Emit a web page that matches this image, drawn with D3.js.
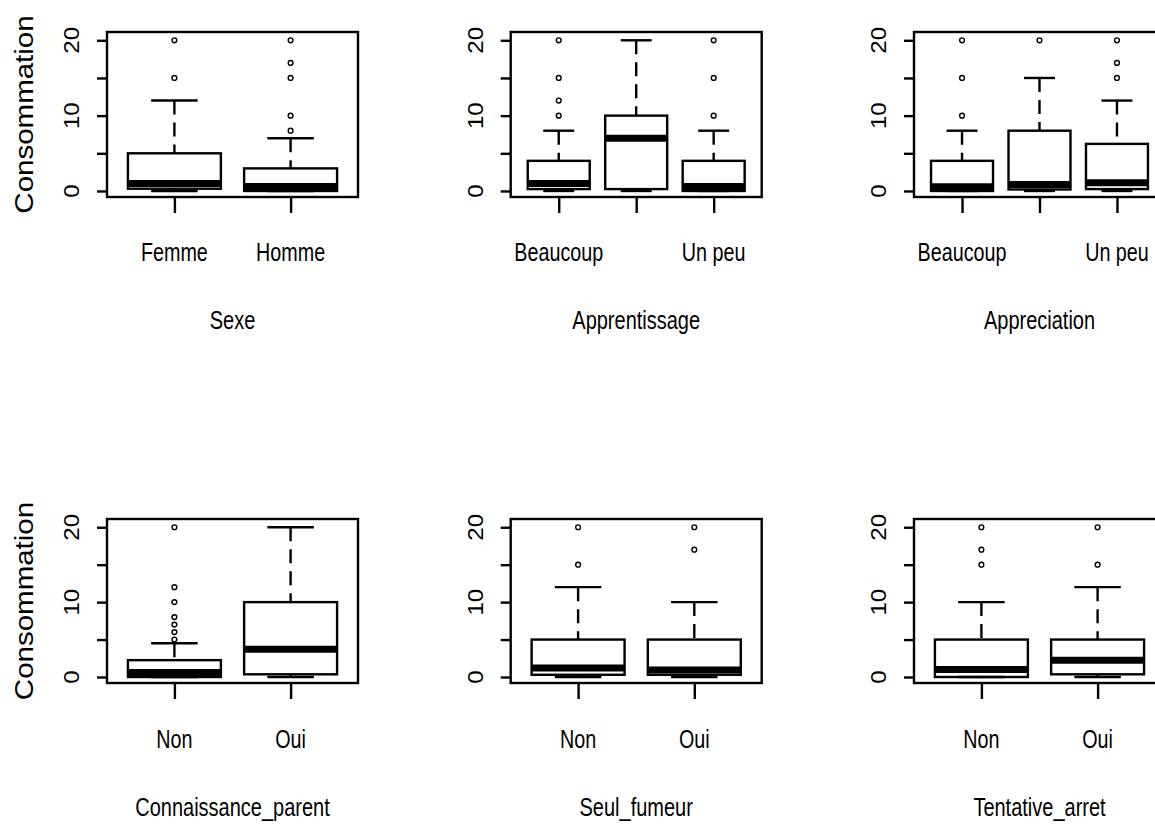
<!DOCTYPE html>
<html>
<head>
<meta charset="utf-8">
<script src="https://cdn.jsdelivr.net/npm/d3@7"></script>
<style>
  html, body { margin: 0; padding: 0; background: #fff; }
  svg { display: block; }
  text { font-family: "Liberation Sans", Arial, sans-serif; fill: #000; }
</style>
</head>
<body>
<svg id="chart" width="1155" height="824"></svg>
<script>
// ---------------- data ----------------
const yTicks = [0, 5, 10, 15, 20];
const yTickLabels = ["0", "", "10", "", "20"];
const yAxisTitle = "Consommation";

const panelTitles = ["Sexe", "Apprentissage", "Appreciation", "Connaissance_parent", "Seul_fumeur", "Tentative_arret"];

// stats per group: [min(lower whisker), Q1, median, Q3, max(upper whisker)]
const sexeCategories = ["Femme", "Homme"];
const sexeTickLabels = ["Femme", "Homme"];
const sexeStats = [[0, 0.3, 1.0, 5, 12], [0, 0, 0.6, 3, 7]];
const sexeOutliers = [[15, 20], [8, 10, 15, 17, 20]];

const apprentissageCategories = ["Beaucoup", "Moyennement", "Un peu"];
const apprentissageTickLabels = ["Beaucoup", "", "Un peu"];
const apprentissageStats = [[0, 0.25, 1.0, 4, 8], [0, 0.25, 7, 10, 20], [0, 0, 0.6, 4, 8]];
const apprentissageOutliers = [[10, 12, 15, 20], [], [10, 15, 20]];

const appreciationCategories = ["Beaucoup", "Moyennement", "Un peu"];
const appreciationTickLabels = ["Beaucoup", "", "Un peu"];
const appreciationStats = [[0, 0, 0.55, 4, 8], [0, 0.2, 0.85, 8, 15], [0, 0.25, 1.1, 6.25, 12]];
const appreciationOutliers = [[10, 15, 20], [20], [15, 17, 20]];

const connaissanceCategories = ["Non", "Oui"];
const connaissanceTickLabels = ["Non", "Oui"];
const connaissanceStats = [[0, 0, 0.6, 2.25, 4.5], [0, 0.36, 3.7, 10, 20]];
const connaissanceOutliers = [[5, 6, 7, 8, 10, 12, 20], []];

const seulCategories = ["Non", "Oui"];
const seulTickLabels = ["Non", "Oui"];
const seulStats = [[0, 0.3, 1.2, 5, 12], [0, 0.3, 0.95, 5, 10]];
const seulOutliers = [[15, 20], [17, 20]];

const tentativeCategories = ["Non", "Oui"];
const tentativeTickLabels = ["Non", "Oui"];
const tentativeStats = [[0, 0, 1.0, 5, 10], [0, 0.36, 2.25, 5, 12]];
const tentativeOutliers = [[15, 17, 20], [15, 20]];

// ---------------- layout ----------------
const colLeft = [107, 510.7, 914];
const frameW = 251;
const rowTop = [32, 519];
const rowH = [165, 164];
const tickLabelBase = [261, 748];
const titleBase = [329, 816];

const panels = [
  { cats: sexeCategories, labels: sexeTickLabels, stats: sexeStats, out: sexeOutliers },
  { cats: apprentissageCategories, labels: apprentissageTickLabels, stats: apprentissageStats, out: apprentissageOutliers },
  { cats: appreciationCategories, labels: appreciationTickLabels, stats: appreciationStats, out: appreciationOutliers },
  { cats: connaissanceCategories, labels: connaissanceTickLabels, stats: connaissanceStats, out: connaissanceOutliers },
  { cats: seulCategories, labels: seulTickLabels, stats: seulStats, out: seulOutliers },
  { cats: tentativeCategories, labels: tentativeTickLabels, stats: tentativeStats, out: tentativeOutliers }
];

const svg = d3.select("#chart");
svg.append("rect").attr("width", 1155).attr("height", 824).attr("fill", "#fff");

const LW = 2.4;

panels.forEach((p, i) => {
  const col = i % 3, row = Math.floor(i / 3);
  const x0 = colLeft[col], x1 = x0 + frameW;
  const top = rowTop[row], bottom = top + rowH[row];
  const n = p.cats.length;

  const x = d3.scaleLinear().domain([0.5 - 0.04 * n, n + 0.5 + 0.04 * n]).range([x0, x1]);
  const y = d3.scaleLinear().domain([-0.8, 21.1]).range([bottom, top]);

  const g = svg.append("g");

  // y axis ticks
  const yAxis = d3.axisLeft(y).tickValues(yTicks).tickSize(10).tickSizeOuter(0).tickFormat("");
  const ya = g.append("g").attr("transform", `translate(${x0},0)`).call(yAxis);
  ya.select(".domain").remove();
  ya.selectAll(".tick line").attr("stroke", "#000").attr("stroke-width", LW);

  g.selectAll(".ylab").data(yTicks).enter().append("text")
    .attr("class", "ylab")
    .attr("transform", d => `translate(${x0 - 28},${y(d)}) scale(1,1.1) rotate(-90)`)
    .attr("text-anchor", "middle")
    .style("font-size", "22px")
    .text((d, k) => yTickLabels[k]);

  // x axis ticks
  const positions = d3.range(1, n + 1);
  const xAxis = d3.axisBottom(x).tickValues(positions).tickSize(16).tickSizeOuter(0).tickFormat("");
  const xa = g.append("g").attr("transform", `translate(0,${bottom})`).call(xAxis);
  xa.select(".domain").remove();
  xa.selectAll(".tick line").attr("stroke", "#000").attr("stroke-width", LW);

  g.selectAll(".xlab").data(positions).enter().append("text")
    .attr("class", "xlab")
    .attr("transform", d => `translate(${x(d)},${tickLabelBase[row]}) scale(0.79,1)`)
    .attr("text-anchor", "middle")
    .style("font-size", "25px")
    .text((d, k) => p.labels[k]);

  // axis title
  g.append("text")
    .attr("transform", `translate(${(x0 + x1) / 2},${titleBase[row]}) scale(0.8,1)`)
    .attr("text-anchor", "middle")
    .style("font-size", "25px")
    .text(panelTitles[i]);

  if (col === 0) {
    g.append("text")
      .attr("transform", `translate(33,${(top + bottom) / 2}) scale(1,1.18) rotate(-90)`)
      .attr("text-anchor", "middle")
      .style("font-size", "25px")
      .text(yAxisTitle);
  }

  // boxes
  p.stats.forEach((s, k) => {
    const cx = x(k + 1);
    const bx0 = x(k + 1 - 0.4), bx1 = x(k + 1 + 0.4);
    const sx0 = x(k + 1 - 0.2), sx1 = x(k + 1 + 0.2);
    const [mn, q1, med, q3, mx] = s;
    // whiskers (drawn from extreme toward the box)
    g.append("line").attr("x1", cx).attr("x2", cx).attr("y1", y(mx)).attr("y2", y(q3))
      .attr("stroke", "#000").attr("stroke-width", LW).attr("stroke-dasharray", "14,8");
    g.append("line").attr("x1", cx).attr("x2", cx).attr("y1", y(mn)).attr("y2", y(q1))
      .attr("stroke", "#000").attr("stroke-width", LW).attr("stroke-dasharray", "14,8");
    // staples
    [mn, mx].forEach(v => {
      g.append("line").attr("x1", sx0).attr("x2", sx1).attr("y1", y(v)).attr("y2", y(v))
        .attr("stroke", "#000").attr("stroke-width", LW);
    });
    // box
    g.append("rect").attr("x", bx0).attr("y", y(q3)).attr("width", bx1 - bx0).attr("height", y(q1) - y(q3))
      .attr("fill", "none").attr("stroke", "#000").attr("stroke-width", LW);
    // median
    g.append("line").attr("x1", bx0).attr("x2", bx1).attr("y1", y(med)).attr("y2", y(med))
      .attr("stroke", "#000").attr("stroke-width", 7);
    // outliers
    g.selectAll(null).data(p.out[k]).enter().append("circle")
      .attr("cx", cx).attr("cy", d => y(d)).attr("r", 2.4)
      .attr("fill", "#fff").attr("stroke", "#000").attr("stroke-width", 1.4);
  });

  // frame
  g.append("rect").attr("x", x0).attr("y", top).attr("width", frameW).attr("height", bottom - top)
    .attr("fill", "none").attr("stroke", "#000").attr("stroke-width", LW);
});
</script>
</body>
</html>
